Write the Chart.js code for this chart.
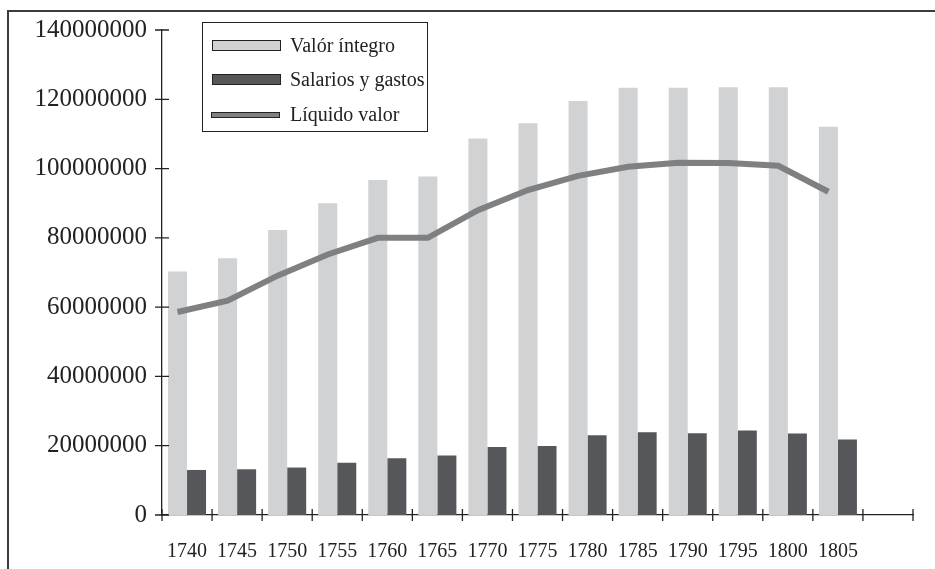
<!DOCTYPE html>
<html>
<head>
<meta charset="utf-8">
<script src="https://cdn.jsdelivr.net/npm/chart.js@4.4.0/dist/chart.umd.min.js"></script>
<style>
    html, body { margin: 0; padding: 0; background: #fff; }
    #cadre { width: 935px; height: 569px; position: relative; }
</style>
</head>
<body>
<div id="cadre"><canvas id="graphe"></canvas></div>
<script>
// Données
const anos = ['1740', '1745', '1750', '1755', '1760', '1765', '1770', '1775', '1780', '1785', '1790', '1795', '1800', '1805', ''];
const valorIntegro = [70300000, 74100000, 82300000, 90000000, 96700000, 97700000, 108700000, 113100000, 119500000, 123300000, 123300000, 123500000, 123500000, 112100000];
const salariosGastos = [13000000, 13200000, 13700000, 15100000, 16400000, 17200000, 19600000, 19900000, 23000000, 23900000, 23600000, 24400000, 23500000, 21800000];
const liquidoValor = [58600000, 61900000, 69100000, 75200000, 80000000, 80000000, 88000000, 93800000, 97900000, 100500000, 101700000, 101600000, 100800000, 93300000];
const ticksY = [0, 20000000, 40000000, 60000000, 80000000, 100000000, 120000000, 140000000];

const police = '"Liberation Serif", "DejaVu Serif", serif';
const couleurAxe = '#222';
// la ligne passe au centre des barres claires
const decalage = -0.19;

// cadre gris en haut et à gauche
const cadrePlugin = {
    id: 'cadre',
    beforeDraw(chart) {
        const ctx = chart.ctx;
        ctx.save();
        ctx.fillStyle = '#fff';
        ctx.fillRect(0, 0, chart.width, chart.height);
        ctx.strokeStyle = '#3c3c3c';
        ctx.lineWidth = 2;
        ctx.beginPath();
        ctx.moveTo(8, chart.height);
        ctx.lineTo(8, 11);
        ctx.lineTo(chart.width, 11);
        ctx.stroke();
        ctx.restore();
    }
};

// petites graduations qui croisent les axes
const graduationsPlugin = {
    id: 'graduations',
    afterDraw(chart) {
        const ctx = chart.ctx;
        const x = chart.scales.x;
        const y = chart.scales.y;
        ctx.save();
        ctx.strokeStyle = couleurAxe;
        ctx.lineWidth = 1.3;
        ctx.beginPath();
        y.ticks.forEach((t, i) => {
            const py = y.getPixelForTick(i);
            ctx.moveTo(x.left - 7, py);
            ctx.lineTo(x.left + 7, py);
        });
        for (let i = 0; i <= anos.length; i++) {
            const px = x.getPixelForValue(i - 0.5);
            ctx.moveTo(px, y.bottom - 6);
            ctx.lineTo(px, y.bottom + 6);
        }
        ctx.stroke();
        ctx.restore();
    }
};

// légende encadrée dans la zone du graphique
const legendePlugin = {
    id: 'legende',
    afterDraw(chart) {
        const ctx = chart.ctx;
        const ds = chart.data.datasets;
        ctx.save();
        ctx.fillStyle = '#fff';
        ctx.fillRect(202, 22, 225, 109);
        ctx.strokeStyle = '#222';
        ctx.lineWidth = 1;
        ctx.strokeRect(202.5, 22.5, 225, 109);
        const lignes = [47, 81, 116];
        ds.forEach((d, i) => {
            const cy = lignes[i];
            ctx.strokeStyle = '#222';
            ctx.lineWidth = 1;
            if (d.type === 'line') {
                ctx.fillStyle = d.borderColor;
                ctx.fillRect(211, cy - 4, 68, 5);
                ctx.strokeRect(211.5, cy - 3.5, 68, 5);
            } else {
                ctx.fillStyle = d.backgroundColor;
                ctx.fillRect(212, cy - 7, 68, 10);
                ctx.strokeRect(212.5, cy - 6.5, 68, 10);
            }
            ctx.fillStyle = '#222';
            ctx.font = '20px ' + police;
            ctx.textBaseline = 'middle';
            ctx.textAlign = 'left';
            ctx.fillText(d.label, 290, cy);
        });
        ctx.restore();
    }
};

const ctx = document.getElementById('graphe').getContext('2d');
new Chart(ctx, {
    type: 'bar',
    data: {
        datasets: [{
            label: 'Valór íntegro',
            data: valorIntegro.map((v, i) => ({ x: i, y: v })),
            backgroundColor: '#d1d2d4',
            order: 1
        }, {
            label: 'Salarios y gastos',
            data: salariosGastos.map((v, i) => ({ x: i, y: v })),
            backgroundColor: '#56575a',
            order: 1
        }, {
            type: 'line',
            label: 'Líquido valor',
            data: liquidoValor.map((v, i) => ({ x: i + decalage, y: v })),
            borderColor: '#7f8082',
            borderWidth: 6,
            pointRadius: 0,
            tension: 0,
            borderJoinStyle: 'miter',
            order: 0
        }]
    },
    options: {
        responsive: true,
        maintainAspectRatio: false,
        animation: false,
        layout: { padding: { top: 30, right: 22, left: 0, bottom: 0 } },
        datasets: {
            bar: { categoryPercentage: 0.76, barPercentage: 1.0 }
        },
        plugins: {
            legend: { display: false },
            tooltip: { enabled: false }
        },
        scales: {
            x: {
                type: 'linear',
                min: -0.5,
                max: anos.length - 0.5,
                offset: false,
                grid: { display: false, drawTicks: false, offset: false },
                border: { display: true, color: couleurAxe, width: 1.3 },
                afterBuildTicks(scale) {
                    scale.ticks = anos.map((a, i) => ({ value: i }));
                },
                ticks: {
                    padding: 25,
                    color: '#222',
                    maxRotation: 0,
                    autoSkip: false,
                    font: { family: police, size: 20 },
                    callback: v => anos[v]
                },
                afterFit(scale) { scale.height = 54; }
            },
            y: {
                min: 0,
                max: 140000000,
                grid: { display: false, drawTicks: false },
                border: { display: true, color: couleurAxe, width: 1.3 },
                afterBuildTicks(scale) {
                    scale.ticks = ticksY.map(v => ({ value: v }));
                },
                ticks: {
                    padding: 15,
                    color: '#222',
                    font: { family: police, size: 25 },
                    callback: v => String(v)
                },
                afterFit(scale) { scale.width = 162; }
            }
        }
    },
    plugins: [cadrePlugin, graduationsPlugin, legendePlugin]
});
</script>
</body>
</html>
